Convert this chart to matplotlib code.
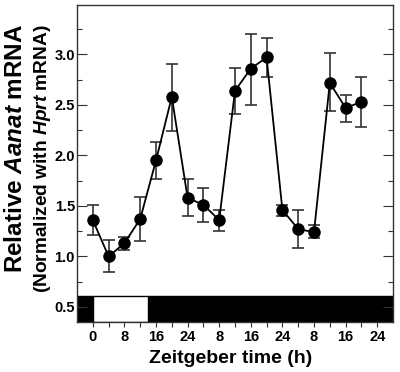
import matplotlib
matplotlib.use("Agg")
import matplotlib.pyplot as plt
import numpy as np

# Zeitgeber time (h), cumulative over 3 days
zt = [0, 4, 8, 12, 16, 20, 24, 28, 32, 36, 40, 44, 48, 52, 56, 60, 64, 68]
mean = [1.36, 1.00, 1.13, 1.37, 1.95, 2.58, 1.58, 1.51, 1.36,
        2.64, 2.86, 2.97, 1.46, 1.27, 1.24, 2.72, 2.47, 2.53]
err_low = [1.21, 0.85, 1.06, 1.15, 1.77, 2.24, 1.40, 1.34, 1.25,
           2.41, 2.50, 2.78, 1.40, 1.08, 1.18, 2.44, 2.33, 2.28]
err_high = [1.51, 1.16, 1.19, 1.59, 2.13, 2.91, 1.77, 1.68, 1.46,
            2.87, 3.20, 3.16, 1.51, 1.46, 1.31, 3.01, 2.60, 2.78]

tick_pos = [0, 8, 16, 24, 32, 40, 48, 56, 64, 72]
tick_labels = ["0", "8", "16", "24", "8", "16", "24", "8", "16", "24"]

# light/dark bar: (start, width)
dark_periods = [(-4, 4), (14, 62)]
light_periods = [(0, 14)]

plt.rcParams["font.family"] = "Liberation Sans"
plt.rcParams["font.weight"] = "bold"
plt.rcParams["mathtext.fontset"] = "custom"
plt.rcParams["mathtext.it"] = "Liberation Sans:italic:bold"
plt.rcParams["mathtext.rm"] = "Liberation Sans:bold"

fig = plt.figure(figsize=(4.0, 3.72), dpi=100)
ax = fig.add_axes([0.1925, 0.1344, 0.79, 0.8522])

ymin, ymax = 0.35, 3.49
bar_top = 0.61

ax.broken_barh(dark_periods, (ymin, bar_top - ymin), facecolor="black",
               edgecolor="black", zorder=1)
ax.broken_barh(light_periods, (ymin, bar_top - ymin), facecolor="white",
               edgecolor="black", linewidth=1, zorder=1)

m = np.array(mean)
yerr = [m - np.array(err_low), np.array(err_high) - m]
ax.errorbar(zt, mean, yerr=yerr, fmt="-o", color="black", ecolor="#333333",
            elinewidth=1.2, capsize=4, capthick=1.2, markersize=8,
            linewidth=1.3, zorder=3)

ax.set_xlim(-4, 76)
ax.set_ylim(ymin, ymax)
ax.set_xticks(tick_pos)
ax.set_xticklabels(tick_labels, fontsize=10.5, fontweight="bold")
ax.set_xticks(np.arange(4, 76, 8), minor=True)
ax.set_yticks([0.5, 1.0, 1.5, 2.0, 2.5, 3.0])
ax.set_yticklabels(["0.5", "1.0", "1.5", "2.0", "2.5", "3.0"],
                   fontsize=10.5, fontweight="bold")
ax.set_yticks(np.arange(0.75, 3.4, 0.5), minor=True)

ax.tick_params(axis="x", which="both", direction="out", length=3.4,
               width=0.8, color="#333333", pad=2)
ax.tick_params(axis="y", which="major", direction="in", length=7,
               width=0.8, color="#333333", right=True, pad=1.5)
ax.tick_params(axis="y", which="minor", direction="in", length=3.8,
               width=0.8, color="#333333", right=True)
for s in ax.spines.values():
    s.set_linewidth(1.0)
    s.set_color("#333333")

fig.text(0.5775, 0.024, "Zeitgeber time (h)", ha="center", va="baseline",
         fontsize=14, fontweight="bold")
fig.text(0.055, 0.601, r"Relative $Aanat$ mRNA", rotation=90,
         rotation_mode="anchor", ha="center", va="baseline",
         fontsize=17.5, fontweight="bold")
fig.text(0.1175, 0.573, r"(Normalized with $Hprt$ mRNA)", rotation=90,
         rotation_mode="anchor", ha="center", va="baseline",
         fontsize=13.8, fontweight="bold")

fig.savefig("out.png", dpi=100)
